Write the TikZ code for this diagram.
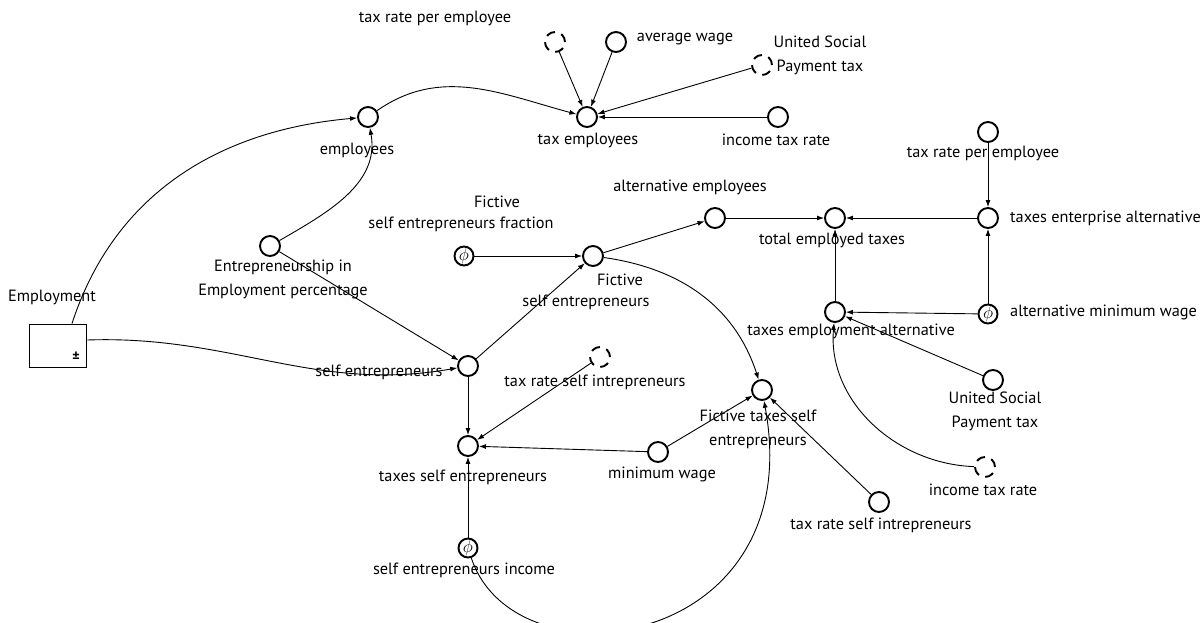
\documentclass[tikz,border=0pt]{standalone}
\usepackage{fontspec}
\setmainfont{PT Sans}
\usetikzlibrary{arrows.meta}
\begin{document}
\begin{tikzpicture}[x=1pt,y=-1pt,
 var/.style={circle,draw,line width=1.9pt,minimum size=20pt,inner sep=0pt},
 dvar/.style={var,dash pattern=on 9pt off 6.7pt},
 phi/.style={circle,draw,line width=1.9pt,minimum size=19pt,inner sep=0pt,font=\fontsize{16}{16}\selectfont},
 lab/.style={inner sep=0pt,font=\fontsize{16.3}{24}\selectfont,align=center},
 link/.style={line width=0.9pt,-{Latex[length=7pt,width=5pt]}},
]
\useasboundingbox (0,0) rectangle (1204,623);

% variables
\node[dvar] (trpe) at (555,42) {};
\node[var] (aw) at (616,42) {};
\node[dvar] (usp) at (762,65) {};
\node[var] (itr) at (778,117) {};
\node[var] (te) at (587,117) {};
\node[var] (emps) at (368,117) {};
\node[var] (eep) at (270,246) {};
\node[draw,line width=1.9pt,minimum width=57pt,minimum height=43pt,inner sep=0pt] (E) at (58,346) {};
\node[inner sep=0pt,font=\fontsize{14}{14}\selectfont\bfseries] (pm) at (76,357) {±};
\node[phi] (fsef) at (464,256) {$\phi$};
\node[var] (fse) at (593,256) {};
\node[var] (ae) at (715,218) {};
\node[var] (tet) at (835,218) {};
\node[var] (tea) at (988,218) {};
\node[var] (trpe2) at (988,132) {};
\node[var] (tema) at (835,312) {};
\node[phi] (amw) at (988,314) {$\phi$};
\node[var] (usp2) at (993,380) {};
\node[dvar] (itr2) at (985,467) {};
\node[var] (trsi2) at (879,502) {};
\node[var] (ftse) at (762,390) {};
\node[var] (mw) at (658,452) {};
\node[var] (tse) at (468,446) {};
\node[dvar] (trsi) at (600,357) {};
\node[var] (se) at (468,366) {};
\node[phi] (sei) at (468,548) {$\phi$};

% labels
\node[lab] (Ltrpe) at (435,18) {tax rate per employee};
\node[lab] (Law) at (685,39) {average wage};
\node[lab] (Lusp) at (820,55) {United Social\\Payment tax};
\node[lab] (Litr) at (776,140) {income tax rate};
\node[lab] (Lte) at (588,140) {tax employees};
\node[lab] (Lemps) at (357,150) {employees};
\node[lab] (Leep) at (283,279) {Entrepreneurship in\\Employment percentage};
\node[lab] (LE) at (52,297) {Employment};
\node[lab] (Lfsef1) at (497,202) {Fictive};
\node[lab] (Lfsef2) at (461,224) {self entrepreneurs fraction};
\node[lab] (Lfse1) at (620,280) {Fictive};
\node[lab] (Lfse2) at (586,302) {self entrepreneurs};
\node[lab] (Lae) at (690,187) {alternative employees};
\node[lab] (Ltet) at (832,240) {total employed taxes};
\node[lab,anchor=west] (Ltea) at (1010,218) {taxes enterprise alternative};
\node[lab] (Ltrpe2) at (983,153) {tax rate per employee};
\node[lab] (Ltema) at (851,331) {taxes employment alternative};
\node[lab,anchor=west] (Lamw) at (1010,312) {alternative minimum wage};
\node[lab] (Lusp2) at (995,411) {United Social\\Payment tax};
\node[lab] (Litr2) at (983,490) {income tax rate};
\node[lab] (Ltrsi2) at (881,525) {tax rate self intrepreneurs};
\node[lab] (Lftse) at (758,429) {Fictive taxes self\\entrepreneurs};
\node[lab] (Lmw) at (662,474) {minimum wage};
\node[lab] (Ltse) at (463,477) {taxes self entrepreneurs};
\node[lab] (Ltrsi) at (595,382) {tax rate self intrepreneurs};
\node[lab] (Lse) at (379,372) {self entrepreneurs};
\node[lab] (Lsei) at (464,570) {self entrepreneurs income};

% connectors
\coordinate (Etop) at ([xshift=14pt]E.north);
\coordinate (Eright) at ([yshift=6pt]E.east);
\draw[link] (Etop) to[out=72,in=185] (emps);
\draw[link] (Eright) to[out=2,in=190] (se);
\draw[link] (eep) to[out=30,in=-80] (emps);
\draw[link] (eep) -- (se);
\draw[link] (emps) to[out=35,in=165] (te);
\draw[link] (trpe) -- (te);
\draw[link] (aw) -- (te);
\draw[link] (usp) -- (te);
\draw[link] (itr) -- (te);
\draw[link] (fsef) -- (fse);
\draw[link] (se) -- (fse);
\draw[link] (fse) -- (ae);
\draw[link] (ae) -- (tet);
\draw[link] (tea) -- (tet);
\draw[link] (trpe2) -- (tea);
\draw[link] (amw) -- (tea);
\draw[link] (tema) -- (tet);
\draw[link] (amw) -- (tema);
\draw[link] (usp2) -- (tema);
\draw[link] (itr2) to[out=178,in=-95] (tema);
\draw[link] (fse) to[out=-8,in=108] (ftse);
\draw[link] (mw) -- (ftse);
\draw[link] (mw) -- (tse);
\draw[link] (trsi) -- (tse);
\draw[link] (se) -- (tse);
\draw[link] (sei) -- (tse);
\draw[link] (sei) .. controls (515,690) and (810,650) .. (ftse);
\draw[link] (trsi2) -- (ftse);
\end{tikzpicture}
\end{document}
